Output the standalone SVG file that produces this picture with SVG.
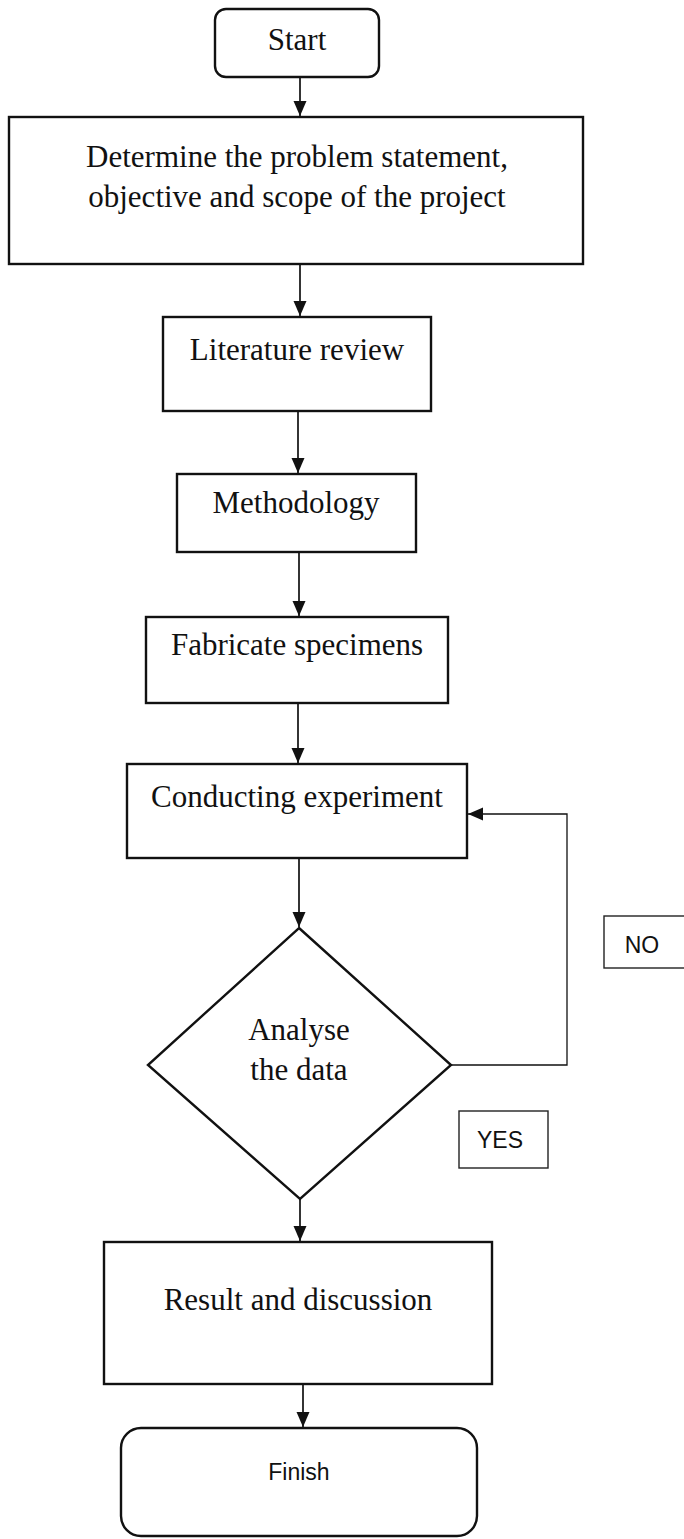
<svg xmlns="http://www.w3.org/2000/svg" width="684" height="1539" viewBox="0 0 684 1539">
  <style>
    .box { fill: #ffffff; stroke: #111111; stroke-width: 2.4; }
    .lbl { fill: #ffffff; stroke: #222222; stroke-width: 1.4; }
    .conn { fill: none; stroke: #111111; stroke-width: 1.7; }
    .t { font-family: "Liberation Serif", "Times New Roman", serif; font-size: 31px; fill: #111111; text-anchor: middle; }
    .s { font-family: "Liberation Sans", Arial, sans-serif; font-size: 23px; fill: #111111; text-anchor: middle; }
  </style>
  <defs>
    <marker id="arrow" markerUnits="userSpaceOnUse" markerWidth="16" markerHeight="16" viewBox="0 0 16 16" refX="15" refY="8" orient="auto">
      <path d="M0,1.5 L15,8 L0,14.5 Z" fill="#111111"/>
    </marker>
  </defs>
  <rect x="0" y="0" width="684" height="1539" fill="#ffffff"/>

  <g id="connectors">
    <line class="conn" x1="300" y1="77" x2="300" y2="116" marker-end="url(#arrow)"/>
    <line class="conn" x1="300" y1="264" x2="300" y2="316" marker-end="url(#arrow)"/>
    <line class="conn" x1="298" y1="411" x2="298" y2="473" marker-end="url(#arrow)"/>
    <line class="conn" x1="299" y1="552" x2="299" y2="616" marker-end="url(#arrow)"/>
    <line class="conn" x1="298" y1="703" x2="298" y2="763" marker-end="url(#arrow)"/>
    <line class="conn" x1="299" y1="858" x2="299" y2="927" marker-end="url(#arrow)"/>
    <polyline class="conn" points="451,1065 567,1065 567,814 468,814" marker-end="url(#arrow)" style="stroke-width:1.3"/>
    <line class="conn" x1="300" y1="1199" x2="300" y2="1241" marker-end="url(#arrow)"/>
    <line class="conn" x1="303" y1="1384" x2="303" y2="1427" marker-end="url(#arrow)"/>
  </g>

  <g id="start">
    <rect class="box" x="215" y="9" width="164" height="68" rx="11" ry="11"/>
    <text class="t" x="297" y="50">Start</text>
  </g>

  <g id="determine">
    <rect class="box" x="9" y="117" width="574" height="147"/>
    <text class="t" x="297" y="167">Determine the problem statement,</text>
    <text class="t" x="297" y="207">objective and scope of the project</text>
  </g>

  <g id="literature">
    <rect class="box" x="163" y="317" width="268" height="94"/>
    <text class="t" x="297" y="360">Literature review</text>
  </g>

  <g id="methodology">
    <rect class="box" x="177" y="474" width="239" height="78"/>
    <text class="t" x="296" y="513">Methodology</text>
  </g>

  <g id="fabricate">
    <rect class="box" x="146" y="617" width="302" height="86"/>
    <text class="t" x="297" y="655">Fabricate specimens</text>
  </g>

  <g id="conducting">
    <rect class="box" x="127" y="764" width="340" height="94"/>
    <text class="t" x="297" y="807">Conducting experiment</text>
  </g>

  <g id="analyse">
    <polygon class="box" points="299,928 451,1065 300,1199 148,1065"/>
    <text class="t" x="299" y="1040">Analyse</text>
    <text class="t" x="299" y="1080">the data</text>
  </g>

  <g id="label-no">
    <rect class="lbl" x="604" y="916" width="90" height="52"/>
    <text class="s" x="642" y="953">NO</text>
  </g>

  <g id="label-yes">
    <rect class="lbl" x="459" y="1111" width="89" height="57"/>
    <text class="s" x="500" y="1148">YES</text>
  </g>

  <g id="result">
    <rect class="box" x="104" y="1242" width="388" height="142"/>
    <text class="t" x="298" y="1310">Result and discussion</text>
  </g>

  <g id="finish">
    <rect class="box" x="121" y="1428" width="356" height="108" rx="20" ry="20"/>
    <text class="s" x="299" y="1480">Finish</text>
  </g>
</svg>
